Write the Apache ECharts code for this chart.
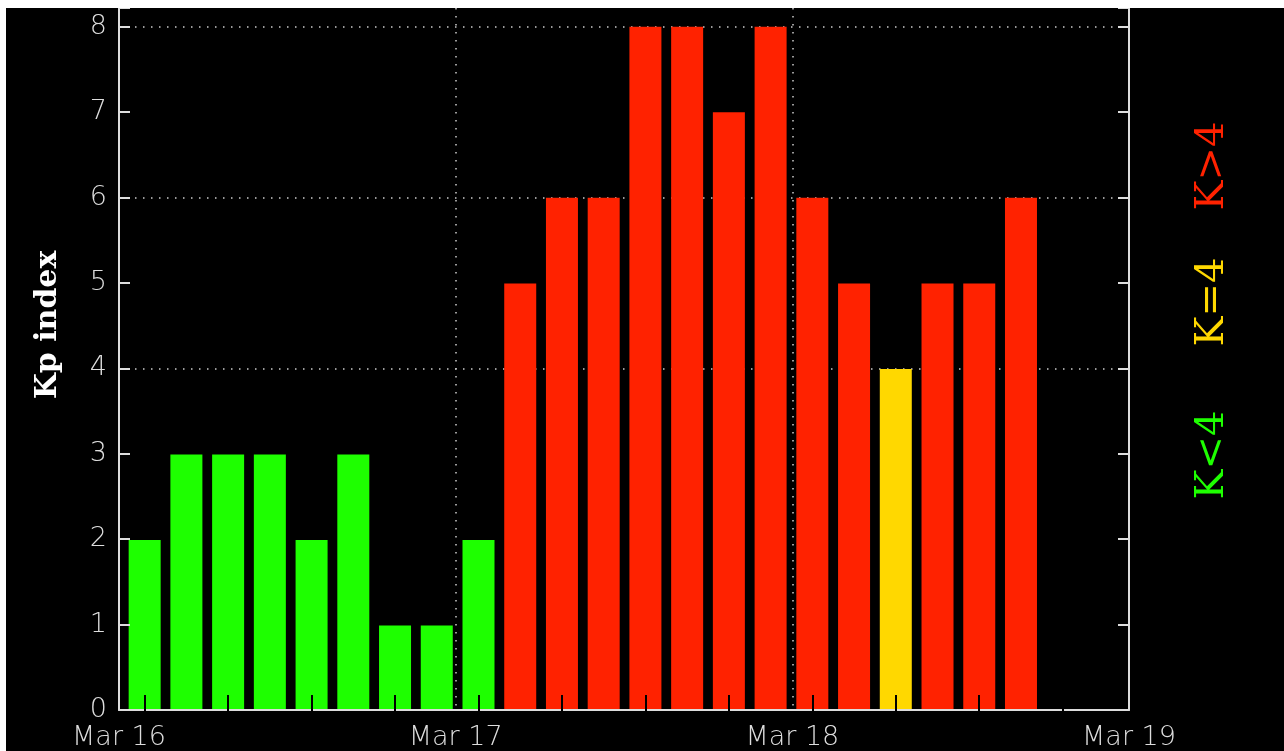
<!DOCTYPE html>
<html>
<head>
<meta charset="utf-8">
<script src="https://cdn.jsdelivr.net/npm/echarts@6/dist/echarts.min.js"></script>
<style>
  html, body { margin: 0; padding: 0; background: #ffffff; }
  #chart { position: absolute; left: 6px; top: 8px; width: 1278px; height: 743px; }
</style>
</head>
<body>
<div id="chart"></div>
<script>
// ---- data ----
const dayLabels = ['Mar 16', 'Mar 17', 'Mar 18', 'Mar 19'];
const slotLabels = [
  '16 00h','16 03h','16 06h','16 09h','16 12h','16 15h','16 18h','16 21h',
  '17 00h','17 03h','17 06h','17 09h','17 12h','17 15h','17 18h','17 21h',
  '18 00h','18 03h','18 06h','18 09h','18 12h','18 15h','18 18h','18 21h'
];
const kpValues = [2, 3, 3, 3, 2, 3, 1, 1,
                  2, 5, 6, 6, 8, 8, 7, 8,
                  6, 5, 4, 5, 5, 6];
const gridLevels = [4, 6, 8];
const legendTexts = ['K>4', 'K=4', 'K<4'];

// ---- style ----
const GREEN = '#1eff00', YELLOW = '#ffd800', RED = '#ff2200';
const AXIS = '#dddddd';
function colorFor(v) { return v < 4 ? GREEN : (v === 4 ? YELLOW : RED); }
const dotted = { color: '#cccccc', width: 1.5, type: [1.5, 6.5] };
const YMAX = 8.22;

const chart = echarts.init(document.getElementById('chart'));
chart.setOption({
  backgroundColor: '#000000',
  animation: false,
  grid: [
    { left: 113, right: 155, top: 0, bottom: 40 },
    { left: 117.8, right: 158.7, top: 0, bottom: 40 }
  ],
  xAxis: [
    {
      gridIndex: 0, type: 'value', min: 0, max: 72, interval: 24, z: 3,
      axisLine: { show: true, lineStyle: { color: AXIS, width: 2 } },
      axisTick: { show: false },
      axisLabel: {
        show: true, showMinLabel: true, showMaxLabel: true, margin: 14,
        color: AXIS, fontFamily: 'DejaVu Sans', fontSize: 27, fontWeight: 200,
        formatter: v => dayLabels[Math.round(v / 24)]
      },
      splitLine: { show: true, lineStyle: dotted }
    },
    {
      gridIndex: 1, type: 'category', data: slotLabels, boundaryGap: true, z: 10,
      axisLine: { show: false },
      axisLabel: { show: false },
      axisTick: { show: true, inside: true, length: 16, alignWithLabel: true,
                  lineStyle: { color: '#000000', width: 2 } },
      splitLine: { show: false }
    }
  ],
  yAxis: [
    {
      gridIndex: 0, type: 'value', min: 0, max: YMAX, interval: 1, position: 'left', z: 3,
      axisLine: { show: true, lineStyle: { color: AXIS, width: 2 } },
      axisTick: { show: true, inside: true, length: 11, lineStyle: { color: AXIS, width: 2 } },
      axisLabel: {
        show: true, margin: 12, color: AXIS, fontFamily: 'DejaVu Sans', fontSize: 27, fontWeight: 200,
        formatter: v => (Math.abs(v - Math.round(v)) < 1e-6 ? String(Math.round(v)) : '')
      },
      splitLine: { show: false }
    },
    {
      gridIndex: 0, type: 'value', min: 0, max: YMAX, interval: 1, position: 'right', z: 3,
      axisLine: { show: true, lineStyle: { color: AXIS, width: 2 } },
      axisTick: { show: true, inside: true, length: 11, lineStyle: { color: AXIS, width: 2 } },
      axisLabel: { show: false },
      splitLine: { show: false }
    },
    {
      gridIndex: 1, type: 'value', min: 0, max: YMAX, show: false,
      splitLine: { show: false }
    }
  ],
  series: [
    {
      type: 'line', xAxisIndex: 0, yAxisIndex: 0, data: [], silent: true,
      markLine: {
        silent: true, symbol: 'none', z: 1,
        label: { show: false },
        lineStyle: dotted,
        emphasis: { disabled: true },
        data: gridLevels.map(v => ({ yAxis: v }))
      }
    },
    {
      type: 'bar', xAxisIndex: 1, yAxisIndex: 2, barWidth: 32, z: 2,
      data: kpValues.map(v => ({ value: v, itemStyle: { color: colorFor(v) } }))
    }
  ],
  graphic: [
    {
      type: 'text', x: 42, y: 317, rotation: Math.PI / 2,
      style: { text: 'Kp index', fill: '#ffffff', font: 'bold 30px "DejaVu Serif"',
               align: 'center', verticalAlign: 'middle' }
    },
    {
      type: 'text', x: 1207, y: 158, rotation: Math.PI / 2,
      style: { text: legendTexts[0], fill: RED, font: '40px "DejaVu Serif"',
               align: 'center', verticalAlign: 'middle' }
    },
    {
      type: 'text', x: 1207, y: 294, rotation: Math.PI / 2,
      style: { text: legendTexts[1], fill: YELLOW, font: '40px "DejaVu Serif"',
               align: 'center', verticalAlign: 'middle' }
    },
    {
      type: 'text', x: 1207, y: 447, rotation: Math.PI / 2,
      style: { text: legendTexts[2], fill: GREEN, font: '40px "DejaVu Serif"',
               align: 'center', verticalAlign: 'middle' }
    }
  ]
});
</script>
</body>
</html>
